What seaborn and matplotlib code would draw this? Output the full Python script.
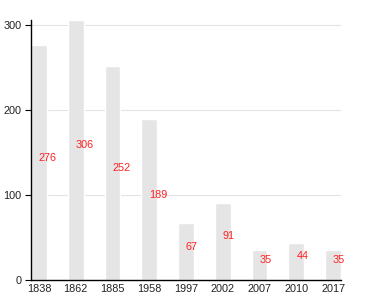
import matplotlib
matplotlib.use("Agg")
import matplotlib.pyplot as plt
import seaborn as sns
import pandas as pd

years = ["1838", "1862", "1885", "1958", "1997", "2002", "2007", "2010", "2017"]
values = [276, 306, 252, 189, 67, 91, 35, 44, 35]

sns.set_style("white")
plt.rcParams['font.family'] = ['Liberation Sans', 'DejaVu Sans']

df = pd.DataFrame({"year": years, "value": values})
fig = plt.figure(figsize=(3.8, 3.0), dpi=100)
ax = fig.add_axes([31/380, 20/300, 310/380, 260/300])
w = 0.43
sns.barplot(data=df, x="year", y="value", color="#e5e5e5", saturation=1,
            width=w, ax=ax, errorbar=None, zorder=2)
for i, v in enumerate(values):
    ax.text(i, v/2, str(v), color="#ff2020", fontsize=7.8, ha="left", va="bottom", zorder=3)

ax.set_xlim(-w/2, len(years) - 1 + w/2)
ax.set_ylim(0, 306)
ax.set_yticks([0, 100, 200, 300])
ax.yaxis.grid(True, color="#e3e3e3", linewidth=0.8, zorder=0)
ax.set_axisbelow(True)
ax.set_xlabel("")
ax.set_ylabel("")
for s in ["top", "right"]:
    ax.spines[s].set_visible(False)
for s in ["left", "bottom"]:
    ax.spines[s].set_color("black")
    ax.spines[s].set_linewidth(1)
ax.tick_params(axis="x", length=0, pad=3, labelsize=7.8, colors="#222222")
ax.tick_params(axis="y", length=4, width=0.8, pad=3, labelsize=7.8, left=True, colors="#222222")
ax.tick_params(axis="y", color="black")
fig.savefig("out.png", dpi=100)
